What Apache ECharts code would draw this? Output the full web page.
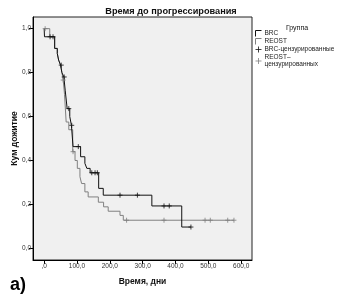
<!DOCTYPE html>
<html><head><meta charset="utf-8">
<script src="https://cdn.jsdelivr.net/npm/echarts@6/dist/echarts.min.js"></script>
<style>html,body{margin:0;padding:0;background:#fff}#c{width:337px;height:295px}</style>
</head><body><div id="c"></div>
<script>
// Kaplan–Meier data (time in days, cumulative survival after each event)
const brcTimes = [0, 1, 32, 40, 44, 50, 54, 60, 64, 70, 78, 83, 88, 111, 124, 130, 140, 166, 180, 328, 419];
const brcSurv  = [1, 0.963, 0.91, 0.887, 0.857, 0.834, 0.80, 0.78, 0.72, 0.636, 0.60, 0.56, 0.463, 0.417, 0.387, 0.364, 0.344, 0.273, 0.242, 0.193, 0.097];
const brcCensor = [18, 27, 52, 61, 75, 84, 104, 145, 155, 162, 231, 284, 365, 381, 447];

const reostTimes = [0, 17, 32, 40, 44, 50, 54, 58, 62, 67, 75, 87, 94, 101, 109, 114, 124, 134, 165, 181, 195, 231, 241];
const reostSurv  = [1, 0.963, 0.91, 0.887, 0.857, 0.834, 0.80, 0.766, 0.70, 0.575, 0.54, 0.44, 0.40, 0.364, 0.326, 0.295, 0.257, 0.234, 0.21, 0.189, 0.169, 0.15, 0.128];
const reostCensor = [3, 58, 88, 251, 365, 490, 506, 559, 578];

const xTicks = [0, 100, 200, 300, 400, 500, 600];
const yTicks = [0, 0.2, 0.4, 0.6, 0.8, 1.0];

const names = ['BRC', 'REOST', 'BRC-цензурированные', 'REOST–цензурированных'];

function survAt(times, surv, t) {
  let s = surv[0];
  for (let i = 0; i < times.length; i++) { if (times[i] <= t) s = surv[i]; }
  return s;
}
function stepData(times, surv, censor) {
  const d = times.map((t, i) => [t, surv[i]]);
  const last = censor[censor.length - 1];
  if (last > times[times.length - 1]) d.push([last, surv[surv.length - 1]]);
  return d;
}
function censorData(times, surv, censor) {
  return censor.map(t => [t, survAt(times, surv, t)]);
}

const BLACK = '#111';
const GRAY = '#808080';
const cross = 'path://M5,0L5,10M0,5L10,5';
const stepIcon = 'path://M0,10L0,0L10,0';
const font = '"Liberation Sans", Arial, sans-serif';

const chart = echarts.init(document.getElementById('c'), null, {renderer: 'canvas'});
chart.setOption({
  animation: false,
  textStyle: {fontFamily: font},
  title: [
    {text: 'Время до прогрессирования', left: 166, top: 2, textAlign: 'center',
     textStyle: {fontSize: 9.2, fontWeight: 'bold', color: '#111', fontFamily: font}},
    {text: 'Группа', left: 292, top: 20, textAlign: 'center',
     textStyle: {fontSize: 7, fontWeight: 'normal', color: '#111', fontFamily: font}},
    {text: 'а)', left: 5, top: 271,
     textStyle: {fontSize: 18, fontWeight: 'bold', color: '#000', fontFamily: font}}
  ],
  legend: {
    orient: 'vertical', left: 255, top: 30, padding: 0, itemGap: 1,
    itemWidth: 8, itemHeight: 6,
    textStyle: {fontSize: 6.5, color: '#222', fontFamily: font, padding: [0, 0, 0, -3], lineHeight: 7},
    formatter: n => n.replace('–', '–\n'),
    data: [
      {name: names[0], icon: stepIcon, itemStyle: {color: 'transparent', borderColor: BLACK, borderWidth: 1}},
      {name: names[1], icon: stepIcon, itemStyle: {color: 'transparent', borderColor: GRAY, borderWidth: 1}},
      {name: names[2], icon: cross, itemStyle: {color: 'transparent', borderColor: BLACK, borderWidth: 1}},
      {name: names[3], icon: cross, itemStyle: {color: 'transparent', borderColor: GRAY, borderWidth: 1}}
    ]
  },
  grid: {left: 33, right: 85, top: 17, bottom: 35, show: true, outerBoundsMode: 'none', containLabel: false,
         backgroundColor: '#f0f0f0', borderColor: '#222', borderWidth: 1},
  xAxis: {
    type: 'value', min: -34, max: 633,
    name: 'Время, дни', nameLocation: 'middle', nameGap: 17, nameMoveOverlap: false,
    nameTextStyle: {fontSize: 8.5, fontWeight: 'bold', color: '#111', fontFamily: font},
    axisLine: {onZero: false, lineStyle: {color: '#000', width: 1}},
    axisTick: {show: true, length: 4, customValues: xTicks, lineStyle: {color: '#000'}},
    axisLabel: {customValues: xTicks, fontSize: 6.5, color: '#333', margin: 3,
      formatter: v => v === 0 ? ',0' : v.toFixed(1).replace('.', ',')},
    splitLine: {show: false}
  },
  yAxis: {
    type: 'value', min: -0.053, max: 1.053,
    name: 'Кум дожитие', nameLocation: 'middle', nameGap: 14, nameRotate: 90, nameMoveOverlap: false,
    nameTextStyle: {fontSize: 8.5, fontWeight: 'bold', color: '#111', fontFamily: font},
    axisLine: {show: true, onZero: false, lineStyle: {color: '#000', width: 1}},
    axisTick: {show: true, length: 4, customValues: yTicks, lineStyle: {color: '#000'}},
    axisLabel: {customValues: yTicks, fontSize: 6.5, color: '#333', margin: 2,
      formatter: v => v.toFixed(1).replace('.', ',')},
    splitLine: {show: false}
  },
  series: [
    {name: names[0], type: 'line', step: 'end', showSymbol: false, symbol: 'none',
     data: stepData(brcTimes, brcSurv, brcCensor),
     lineStyle: {color: BLACK, width: 1}, itemStyle: {color: BLACK}, z: 3},
    {name: names[1], type: 'line', step: 'end', showSymbol: false, symbol: 'none',
     data: stepData(reostTimes, reostSurv, reostCensor),
     lineStyle: {color: GRAY, width: 1}, itemStyle: {color: GRAY}, z: 2},
    {name: names[2], type: 'scatter', symbol: cross, symbolSize: 5,
     data: censorData(brcTimes, brcSurv, brcCensor),
     itemStyle: {color: 'transparent', borderColor: BLACK, borderWidth: 1}, z: 4},
    {name: names[3], type: 'scatter', symbol: cross, symbolSize: 5,
     data: censorData(reostTimes, reostSurv, reostCensor),
     itemStyle: {color: 'transparent', borderColor: GRAY, borderWidth: 1}, z: 4}
  ]
});
</script></body></html>
